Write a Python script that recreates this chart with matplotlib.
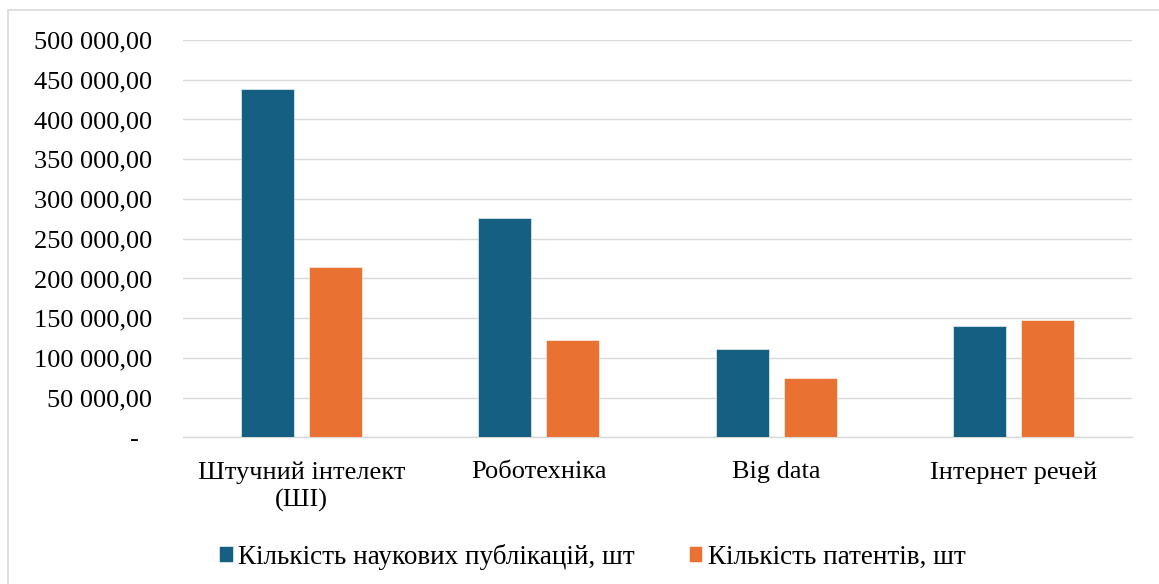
import matplotlib as mpl
mpl.use('Agg')
import matplotlib.pyplot as plt
from matplotlib.patches import Rectangle
from matplotlib.ticker import FuncFormatter
import numpy as np

plt.rcParams['font.family'] = ['Liberation Serif', 'DejaVu Serif']

categories = ['Штучний інтелект\n(ШІ)', 'Роботехніка', 'Big data', 'Інтернет речей']
publications = [438400, 275700, 110900, 139900]
patents = [214500, 122600, 74500, 147800]
series_names = ['Кількість наукових публікацій, шт', 'Кількість патентів, шт']
colors = ['#156082', '#E97132']


def fmt(v, pos):
    if v == 0:
        return '-  '
    return f'{v:,.2f}'.replace(',', ' ').replace('.', ',')


fig = plt.figure(figsize=(11.59, 5.84), dpi=100)
ax = fig.add_axes([0.1579, 0.2509, 0.8188, 0.6806])

# chart frame (only top and left edges are visible in the crop)
fig.patches.append(Rectangle((8 / 1159, -0.1), 1.2, 1 - 10 / 584 + 0.1,
                             transform=fig.transFigure, fill=False,
                             edgecolor='#D9D9D9', linewidth=1.2))

x = np.arange(len(categories))
w = 0.223
off = 0.143
ax.bar(x - off, publications, w, color=colors[0], edgecolor='#FFFFFF', linewidth=0.4,
       label=series_names[0], zorder=3)
ax.bar(x + off, patents, w, color=colors[1], edgecolor='#FFFFFF', linewidth=0.4,
       label=series_names[1], zorder=3)

ax.set_xlim(-0.5, len(categories) - 0.5)
ax.set_ylim(0, 500000)
ax.set_yticks(np.arange(0, 500001, 50000))
ax.yaxis.set_major_formatter(FuncFormatter(fmt))
ax.set_xticks(x)
ax.set_xticklabels(categories, linespacing=1.3)

ax.grid(axis='y', color='#D9D9D9', linewidth=1.0, zorder=0)
ax.axhline(0, color='#D9D9D9', linewidth=1.0, zorder=1, clip_on=False)
for s in ax.spines.values():
    s.set_visible(False)
ax.tick_params(axis='both', length=0, labelsize=19, colors='black')
ax.tick_params(axis='y', pad=22)
ax.tick_params(axis='x', pad=17)

fig.legend(loc='center', bbox_to_anchor=(0.511, 0.047), ncol=2, frameon=False,
           fontsize=19.5, handlelength=0.5, handleheight=0.5, handletextpad=0.2,
           columnspacing=2.0, borderaxespad=0)

plt.savefig('out.png', dpi=100)
